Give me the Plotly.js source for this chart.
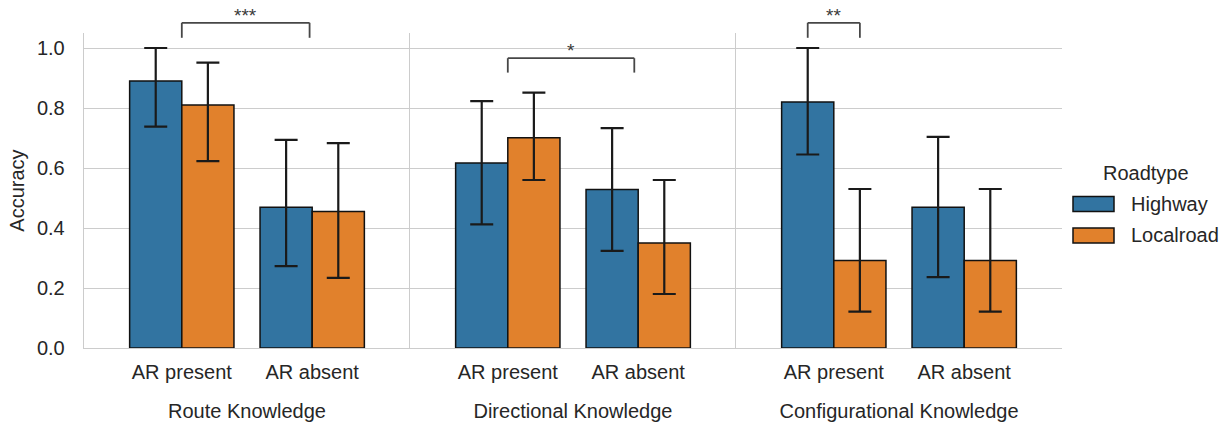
<!DOCTYPE html>
<html><head><meta charset="utf-8">
<script src="https://cdn.plot.ly/plotly-3.0.1.min.js"></script>
<style>html,body{margin:0;padding:0;background:#fff}#chart{width:1225px;height:430px}</style>
</head><body><div id="chart"></div>
<script>
// ---- data ----
const facets = ['Route Knowledge', 'Directional Knowledge', 'Configurational Knowledge'];
const conditions = ['AR present', 'AR absent'];
const roadtypes = ['Highway', 'Localroad'];
const highwayMean = [[0.89, 0.469], [0.617, 0.528], [0.82, 0.469]];
const highwayLow  = [[0.738, 0.273], [0.412, 0.324], [0.645, 0.236]];
const highwayHigh = [[1.0, 0.694], [0.823, 0.733], [1.0, 0.704]];
const localMean   = [[0.81, 0.455], [0.701, 0.35], [0.292, 0.292]];
const localLow    = [[0.623, 0.234], [0.56, 0.18], [0.121, 0.121]];
const localHigh   = [[0.951, 0.683], [0.851, 0.56], [0.53, 0.53]];
const sigLabels   = ['***', '*', '**'];
const yTicks = [0, 0.2, 0.4, 0.6, 0.8, 1.0];

// ---- style / layout ----
const FONT = 'Liberation Sans, Arial, sans-serif';
const TXT = '#262626';
const colors = ['#3274a1', '#e1812c'];
const yMax = 1.05;
const M = {l: 84, r: 163, t: 33, b: 82};
const W = 1225, H = 430;
const PW = W - M.l - M.r, PH = H - M.t - M.b;
const px = x => (x - M.l) / PW;       // pixel -> paper x
const py = y => (H - M.b - y) / PH;   // pixel -> paper y

// bracket geometry (category-index x, data-unit y), per facet
const brackets = [
  {x0: 0, x1: 0.98, top: 1.084, leg: 1.034},
  {x0: 0, x1: 0.97, top: 0.966, leg: 0.918},
  {x0: -0.2, x1: 0.2, top: 1.084, leg: 1.034}
];

const means = [highwayMean, localMean];
const lows = [highwayLow, localLow];
const highs = [highwayHigh, localHigh];

const traces = [];
facets.forEach((f, i) => {
  const s = i === 0 ? '' : String(i + 1);
  roadtypes.forEach((rt, k) => {
    const m = means[k][i];
    traces.push({
      type: 'bar', name: rt, x: conditions, y: m,
      xaxis: 'x' + s, yaxis: 'y' + s, showlegend: false,
      marker: {color: colors[k], line: {color: '#111', width: 1.5}},
      error_y: {type: 'data', symmetric: false,
        array: m.map((v, j) => highs[k][i][j] - v),
        arrayminus: m.map((v, j) => v - lows[k][i][j]),
        color: '#1a1a1a', thickness: 2.2, width: 11.5},
      hoverinfo: 'x+y'
    });
  });
});

const layout = {
  width: W, height: H, margin: M,
  paper_bgcolor: '#fff', plot_bgcolor: '#fff',
  font: {family: FONT, size: 20, color: TXT},
  barmode: 'group', bargap: 0.2, bargroupgap: 0,
  showlegend: false,
  shapes: [], annotations: []
};
facets.forEach((f, i) => {
  const s = i === 0 ? '' : String(i + 1);
  layout['xaxis' + s] = {
    domain: [i / 3, (i + 1) / 3], anchor: 'y' + s,
    type: 'category', range: [-0.75, 1.75],
    showgrid: false, zeroline: false, showline: true, linecolor: '#cccccc', linewidth: 1.25,
    ticks: '', ticklabelstandoff: 6,
    tickfont: {size: 20, color: TXT, family: FONT},
    title: {text: f, font: {size: 20, color: TXT, family: FONT}, standoff: 21}
  };
  layout['yaxis' + s] = {
    domain: [0, 1], anchor: 'x' + s, range: [0, yMax],
    tickvals: yTicks, tickformat: '.1f',
    showgrid: true, gridcolor: '#cccccc', gridwidth: 1,
    zeroline: false, showline: true, linecolor: '#cccccc', linewidth: 1.25,
    ticks: '', showticklabels: i === 0, ticklabelstandoff: 14,
    tickfont: {size: 20, color: TXT, family: FONT},
    title: i === 0 ? {text: 'Accuracy', font: {size: 20, color: TXT, family: FONT}, standoff: 6.5} : {text: ''}
  };
  if (i > 0) layout['yaxis' + s].matches = 'y';

  const b = brackets[i];
  const xr = 'x' + s;
  const lineStyle = {color: '#474747', width: 1.8};
  const yt = b.top / yMax, yl = b.leg / yMax;
  layout.shapes.push(
    {type: 'line', xref: xr, yref: 'paper', x0: b.x0, x1: b.x0, y0: yl, y1: yt, line: lineStyle},
    {type: 'line', xref: xr, yref: 'paper', x0: b.x0, x1: b.x1, y0: yt, y1: yt, line: lineStyle},
    {type: 'line', xref: xr, yref: 'paper', x0: b.x1, x1: b.x1, y0: yt, y1: yl, line: lineStyle}
  );
  layout.annotations.push({
    xref: xr, yref: 'paper', x: (b.x0 + b.x1) / 2, y: yt, yanchor: 'bottom', xanchor: 'center',
    text: sigLabels[i], showarrow: false, font: {size: 19, color: '#3a3a3a', family: FONT}, yshift: -5
  });
});

// manual legend (matplotlib style)
layout.annotations.push({
  xref: 'paper', yref: 'paper', x: px(1145.5), y: py(173), xanchor: 'center', yanchor: 'middle',
  text: 'Roadtype', showarrow: false, font: {size: 20, color: TXT, family: FONT}
});
roadtypes.forEach((rt, k) => {
  const cy = [204, 235.5][k];
  layout.shapes.push({type: 'rect', xref: 'paper', yref: 'paper',
    x0: px(1073), x1: px(1114), y0: py(cy + 7.5), y1: py(cy - 7.5),
    fillcolor: colors[k], line: {color: '#111', width: 1.5}});
  layout.annotations.push({
    xref: 'paper', yref: 'paper', x: px(1129), y: py(cy), xanchor: 'left', yanchor: 'middle',
    text: rt, showarrow: false, font: {size: 20, color: TXT, family: FONT}
  });
});

Plotly.newPlot('chart', traces, layout, {displayModeBar: false, staticPlot: true});
</script></body></html>
